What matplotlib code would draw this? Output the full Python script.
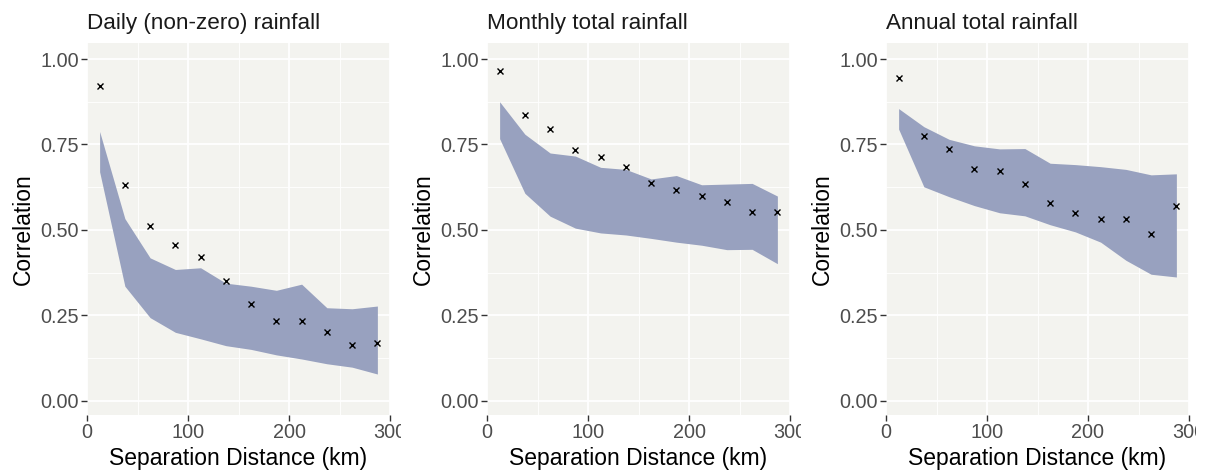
import matplotlib
matplotlib.use("Agg")
import matplotlib.pyplot as plt
from matplotlib.transforms import Bbox, TransformedBbox, IdentityTransform

plt.rcParams['font.family'] = ['Liberation Sans', 'DejaVu Sans']

distance = [12.5, 37.5, 62.5, 87.5, 112.5, 137.5, 162.5, 187.5, 212.5, 237.5, 262.5, 287.5]
titles = ["Daily (non-zero) rainfall", "Monthly total rainfall", "Annual total rainfall"]

daily_obs = [0.922, 0.630, 0.511, 0.456, 0.421, 0.350, 0.282, 0.232, 0.233, 0.200, 0.162, 0.170]
daily_hi = [0.788, 0.533, 0.418, 0.384, 0.389, 0.344, 0.335, 0.323, 0.341, 0.272, 0.269, 0.277]
daily_lo = [0.670, 0.335, 0.243, 0.200, 0.181, 0.161, 0.150, 0.134, 0.122, 0.108, 0.098, 0.078]

monthly_obs = [0.966, 0.835, 0.796, 0.734, 0.712, 0.685, 0.638, 0.618, 0.599, 0.583, 0.552, 0.553]
monthly_hi = [0.875, 0.780, 0.725, 0.716, 0.683, 0.677, 0.649, 0.659, 0.632, 0.634, 0.636, 0.599]
monthly_lo = [0.767, 0.607, 0.540, 0.505, 0.491, 0.485, 0.475, 0.464, 0.455, 0.442, 0.443, 0.401]

annual_obs = [0.944, 0.775, 0.737, 0.679, 0.673, 0.635, 0.578, 0.549, 0.531, 0.531, 0.487, 0.571]
annual_hi = [0.855, 0.802, 0.765, 0.746, 0.737, 0.738, 0.695, 0.691, 0.685, 0.677, 0.661, 0.664]
annual_lo = [0.795, 0.626, 0.597, 0.571, 0.550, 0.541, 0.515, 0.494, 0.464, 0.411, 0.370, 0.362]

series = [(daily_obs, daily_lo, daily_hi),
          (monthly_obs, monthly_lo, monthly_hi),
          (annual_obs, annual_lo, annual_hi)]

W, H = 1209, 474
fig = plt.figure(figsize=(W / 100, H / 100), dpi=100)

panel_left = [87, 487, 886]
panel_w = 303
panel_top = 43
panel_bottom = 415
clip_right = [401, 801, 1196]

bg = '#F3F3EF'
ribbon = '#98A1BF'
tickcol = '#4D4D4D'

for i in range(3):
    ax = fig.add_axes([panel_left[i] / W, 1 - panel_bottom / H,
                       panel_w / W, (panel_bottom - panel_top) / H])
    obs, lo, hi = series[i]
    ax.set_facecolor(bg)
    ax.fill_between(distance, lo, hi, color=ribbon, linewidth=0, zorder=2)
    ax.plot(distance, obs, linestyle='none', marker='x', color='black',
            markersize=5, markeredgewidth=1.0, zorder=3)
    ax.set_xlim(0, 300)
    ax.set_ylim(-0.042, 1.047)
    ax.set_xticks([0, 100, 200, 300])
    ax.set_xticks([50, 150, 250], minor=True)
    ax.set_yticks([0, 0.25, 0.5, 0.75, 1.0])
    ax.set_yticklabels(['0.00', '0.25', '0.50', '0.75', '1.00'])
    ax.set_yticks([0.125, 0.375, 0.625, 0.875], minor=True)
    ax.grid(which='major', color='white', linewidth=1.3, zorder=0)
    ax.grid(which='minor', color='white', linewidth=0.6, zorder=0)
    ax.set_axisbelow(True)
    for s in ax.spines.values():
        s.set_visible(False)
    ax.tick_params(which='major', length=4, width=1, color='#333333',
                   labelcolor=tickcol, labelsize=14.3, pad=2)
    ax.tick_params(which='minor', length=0)
    ax.set_xlabel('Separation Distance (km)', fontsize=16.5, color='black', labelpad=3)
    ax.set_ylabel('Correlation', fontsize=16.5, color='black', labelpad=4)
    ax.set_title(titles[i], loc='left', fontsize=16.2, color='#1A1A1A', pad=10)
    # clip the rightmost x tick label like the reference
    lab = ax.get_xticklabels()[-1]
    bb = Bbox.from_extents(0, 0, clip_right[i], H)
    lab.set_clip_box(TransformedBbox(bb, IdentityTransform()))
    lab.set_clip_on(True)

fig.savefig('out.png', dpi=100)
